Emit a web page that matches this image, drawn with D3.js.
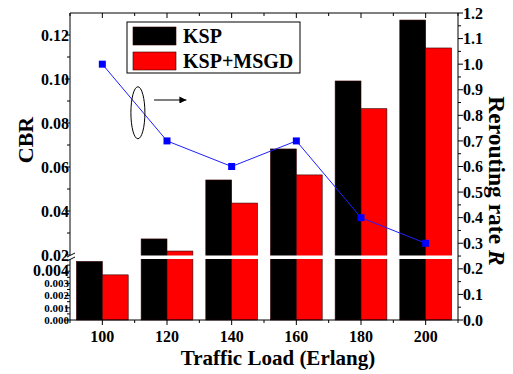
<!DOCTYPE html>
<html>
<head>
<meta charset="utf-8">
<script src="https://cdn.jsdelivr.net/npm/d3@7"></script>
<style>
	body { margin: 0; background: #fff; }
	text { font-family: "Liberation Serif", "Times New Roman", serif; font-weight: bold; fill: #000; }
</style>
</head>
<body>
<svg id="chart"></svg>
<script>
// chart data
const loads = [ 100, 120, 140, 160, 180, 200 ] ;
const cbrKSP = [ 0.0048, 0.0273, 0.0541, 0.0682, 0.0991, 0.1268 ] ;
const cbrMSGD = [ 0.0037, 0.0218, 0.0436, 0.0564, 0.0865, 0.1141 ] ;
const rerouting = [ 1.0, 0.7, 0.6, 0.7, 0.4, 0.3 ] ;
const seriesNames = [ 'KSP', 'KSP+MSGD' ] ;
const seriesColors = [ '#000000', '#ff0000' ] ;
const upperTicks = [ 0.02, 0.04, 0.06, 0.08, 0.10, 0.12 ] ;
const lowerTicks = [ 0.000, 0.001, 0.002, 0.003, 0.004 ] ;
const rightTicks = d3.range( 0, 13 ).map( i => i / 10 ) ;

const geom = {
	width: 513,
	height: 374,
	margins: { left: 70, right: 55, top: 13, bottom: 54 }
} ;
const x0 = geom.margins.left, x1 = geom.width - geom.margins.right ;
const yTop = geom.margins.top, yBot = geom.height - geom.margins.bottom ;

const x = d3.scaleLinear().domain( [ 90, 210 ] ).range( [ x0, x1 ] ) ;
// broken left axis: two pieces
const yLow = d3.scaleLinear().domain( [ 0, 0.005 ] ).range( [ yBot, 259 ] ) ;
const yHigh = d3.scaleLinear().domain( [ 0.02, 0.13 ] ).range( [ 255, yTop ] ) ;
const yCBR = v => v <= 0.005 ? yLow( v ) : yHigh( Math.max( v, 0.02 ) ) ;
const yR = d3.scaleLinear().domain( [ 0, 1.2 ] ).range( [ yBot, yTop ] ) ;

const svg = d3.select( '#chart' )
	.attr( 'width', geom.width )
	.attr( 'height', geom.height ) ;

// bars
const barW = x( 8 ) - x( 0 ) ;
[ cbrKSP, cbrMSGD ].forEach( ( vals, s ) => {
	svg.append( 'g' )
		.selectAll( 'rect' )
		.data( vals )
		.enter()
		.append( 'rect' )
		.attr( 'x', ( d, i ) => s == 0 ? x( loads[i] ) - barW : x( loads[i] ) )
		.attr( 'y', d => yCBR( d ) )
		.attr( 'width', barW )
		.attr( 'height', d => yBot - yCBR( d ) )
		.attr( 'fill', seriesColors[s] )
		.attr( 'stroke', '#300' )
		.attr( 'stroke-width', 0.6 ) ;
} ) ;

// white band across the break
svg.append( 'rect' )
	.attr( 'x', x0 + 1 )
	.attr( 'y', yHigh( 0.02 ) + 0.5 )
	.attr( 'width', x1 - x0 - 2 )
	.attr( 'height', 3.5 )
	.attr( 'fill', '#fff' ) ;

// rerouting line
const line = d3.line()
	.x( ( d, i ) => x( loads[i] ) )
	.y( d => yR( d ) ) ;
svg.append( 'path' )
	.datum( rerouting )
	.attr( 'd', line )
	.attr( 'fill', 'none' )
	.attr( 'stroke', '#1f1fff' )
	.attr( 'stroke-width', 1 ) ;
svg.selectAll( 'rect.marker' )
	.data( rerouting )
	.enter()
	.append( 'rect' )
	.attr( 'class', 'marker' )
	.attr( 'x', ( d, i ) => x( loads[i] ) - 3.5 )
	.attr( 'y', d => yR( d ) - 3.5 )
	.attr( 'width', 7 )
	.attr( 'height', 7 )
	.attr( 'fill', '#0000ff' ) ;

// frame
const stroke = g => g.attr( 'stroke', '#000' ).attr( 'stroke-width', 1 ) ;
svg.append( 'line' ).attr( 'x1', x0 ).attr( 'x2', x1 ).attr( 'y1', yTop ).attr( 'y2', yTop ).call( stroke ) ;
svg.append( 'line' ).attr( 'x1', x0 ).attr( 'x2', x1 ).attr( 'y1', yBot ).attr( 'y2', yBot ).call( stroke ) ;
svg.append( 'line' ).attr( 'x1', x1 ).attr( 'x2', x1 ).attr( 'y1', yTop ).attr( 'y2', yBot ).call( stroke ) ;
svg.append( 'line' ).attr( 'x1', x0 ).attr( 'x2', x0 ).attr( 'y1', yTop ).attr( 'y2', yHigh( 0.02 ) ).call( stroke ) ;
svg.append( 'line' ).attr( 'x1', x0 ).attr( 'x2', x0 ).attr( 'y1', yLow( 0.005 ) ).attr( 'y2', yBot ).call( stroke ) ;

// break marks
[ yHigh( 0.02 ), yLow( 0.005 ) ].forEach( yy => {
	svg.append( 'line' )
		.attr( 'x1', x0 - 3 ).attr( 'y1', yy + 2 )
		.attr( 'x2', x0 + 5 ).attr( 'y2', yy - 2 )
		.call( stroke ) ;
} ) ;

// x ticks, bottom (out) and top (in)
const xMajor = d3.range( 100, 201, 20 ) ;
const xMinor = d3.range( 90, 211, 20 ) ;
const tick = ( data, x1f, y1f, x2f, y2f ) => {
	svg.append( 'g' ).selectAll( 'line' )
		.data( data ).enter().append( 'line' )
		.attr( 'x1', x1f ).attr( 'y1', y1f ).attr( 'x2', x2f ).attr( 'y2', y2f )
		.call( stroke ) ;
} ;
tick( xMajor, d => x( d ), yBot, d => x( d ), yBot + 5 ) ;
tick( xMinor, d => x( d ), yBot, d => x( d ), yBot + 3 ) ;
tick( xMajor, d => x( d ), yTop, d => x( d ), yTop + 5 ) ;
tick( xMinor, d => x( d ), yTop, d => x( d ), yTop + 3 ) ;
svg.append( 'g' ).selectAll( 'text' )
	.data( xMajor ).enter().append( 'text' )
	.attr( 'x', d => x( d ) )
	.attr( 'y', yBot + 22 )
	.attr( 'text-anchor', 'middle' )
	.attr( 'font-size', '16px' )
	.text( d => d ) ;

// left ticks
const upperMinor = d3.range( 3, 13, 2 ).map( i => i / 100 ) ;
tick( upperTicks, x0, d => yHigh( d ), x0 - 5, d => yHigh( d ) ) ;
tick( upperMinor, x0, d => yHigh( d ), x0 - 3, d => yHigh( d ) ) ;
const lowerMinor = [ 0.0005, 0.0015, 0.0025, 0.0035, 0.0045 ] ;
tick( lowerTicks, x0, d => yLow( d ), x0 - 5, d => yLow( d ) ) ;
tick( lowerMinor, x0, d => yLow( d ), x0 - 3, d => yLow( d ) ) ;
svg.append( 'g' ).selectAll( 'text' )
	.data( upperTicks ).enter().append( 'text' )
	.attr( 'x', x0 - 1 )
	.attr( 'y', d => yHigh( d ) )
	.attr( 'dy', '0.35em' )
	.attr( 'text-anchor', 'end' )
	.attr( 'font-size', '16px' )
	.text( d => d.toFixed( 2 ) ) ;
svg.append( 'g' ).selectAll( 'text' )
	.data( lowerTicks ).enter().append( 'text' )
	.attr( 'x', x0 - 1 )
	.attr( 'y', d => d == 0.004 ? yLow( d ) - 1 : yLow( d ) )
	.attr( 'dy', '0.35em' )
	.attr( 'text-anchor', 'end' )
	.attr( 'font-size', d => d == 0.004 ? '16px' : '11px' )
	.text( d => d.toFixed( 3 ) ) ;

// right ticks
const rightMinor = d3.range( 0, 12 ).map( i => i / 10 + 0.05 ) ;
tick( rightTicks, x1, d => yR( d ), x1 + 5, d => yR( d ) ) ;
tick( rightMinor, x1, d => yR( d ), x1 + 3, d => yR( d ) ) ;
svg.append( 'g' ).selectAll( 'text' )
	.data( rightTicks ).enter().append( 'text' )
	.attr( 'x', x1 + 5 )
	.attr( 'y', d => yR( d ) )
	.attr( 'dy', '0.35em' )
	.attr( 'font-size', '16px' )
	.text( d => d.toFixed( 1 ) ) ;

// axis titles
svg.append( 'text' )
	.attr( 'transform', 'translate(33 140) rotate(-90)' )
	.attr( 'text-anchor', 'middle' )
	.attr( 'font-size', '22px' )
	.text( 'CBR' ) ;
const rTitle = svg.append( 'text' )
	.attr( 'transform', 'translate(489 181) rotate(90)' )
	.attr( 'text-anchor', 'middle' )
	.attr( 'font-size', '23.5px' ) ;
rTitle.append( 'tspan' ).text( 'Rerouting rate ' ) ;
rTitle.append( 'tspan' ).attr( 'font-style', 'italic' ).text( 'R' ) ;
svg.append( 'text' )
	.attr( 'x', 278 )
	.attr( 'y', 365 )
	.attr( 'text-anchor', 'middle' )
	.attr( 'font-size', '21px' )
	.text( 'Traffic Load (Erlang)' ) ;

// legend
const leg = svg.append( 'g' ).attr( 'transform', 'translate(127 22)' ) ;
leg.append( 'rect' )
	.attr( 'width', 173 ).attr( 'height', 51 )
	.attr( 'fill', '#fff' ).attr( 'stroke', '#000' ) ;
seriesNames.forEach( ( name, i ) => {
	leg.append( 'rect' )
		.attr( 'x', 6 ).attr( 'y', 5 + i * 25 )
		.attr( 'width', 43 ).attr( 'height', 18 )
		.attr( 'fill', seriesColors[i] ).attr( 'stroke', '#300' ).attr( 'stroke-width', 0.6 ) ;
	leg.append( 'text' )
		.attr( 'x', 56 ).attr( 'y', 14 + i * 25 )
		.attr( 'dy', '0.35em' )
		.attr( 'font-size', '20px' )
		.text( name ) ;
} ) ;

// ellipse + arrow pointing at the right axis
svg.append( 'ellipse' )
	.attr( 'cx', x( 111 ) ).attr( 'cy', yR( 0.81 ) )
	.attr( 'rx', 7 ).attr( 'ry', 26 )
	.attr( 'fill', 'none' ).attr( 'stroke', '#000' ) ;
svg.append( 'defs' ).append( 'marker' )
	.attr( 'id', 'arrow' )
	.attr( 'viewBox', '0 0 10 10' )
	.attr( 'refX', 10 ).attr( 'refY', 5 )
	.attr( 'markerWidth', 10 ).attr( 'markerHeight', 7 )
	.attr( 'markerUnits', 'userSpaceOnUse' )
	.attr( 'orient', 'auto' )
	.append( 'path' ).attr( 'd', 'M0,0 L10,5 L0,10 z' ).attr( 'fill', '#000' ) ;
svg.append( 'line' )
	.attr( 'x1', x( 116 ) ).attr( 'y1', yR( 0.86 ) )
	.attr( 'x2', x( 126 ) ).attr( 'y2', yR( 0.86 ) )
	.attr( 'stroke', '#000' ).attr( 'stroke-width', 1.2 )
	.attr( 'marker-end', 'url(#arrow)' ) ;
</script>
</body>
</html>
